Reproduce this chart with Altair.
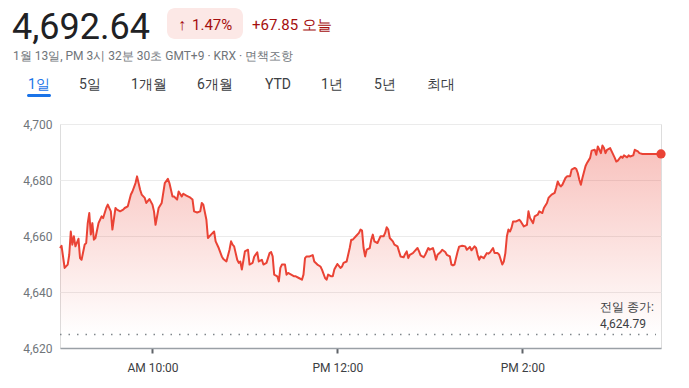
import altair as alt
import pandas as pd

# ---------------- data ----------------
times = [
    "09:00", "09:01", "09:03", "09:05", "09:06", "09:07", "09:08", "09:09", "09:10", "09:12",
    "09:13", "09:14", "09:16", "09:17", "09:18", "09:19", "09:20", "09:21", "09:22", "09:23",
    "09:25", "09:27", "09:28", "09:30", "09:31", "09:33", "09:34", "09:36", "09:37", "09:39",
    "09:41", "09:42", "09:44", "09:46", "09:47", "09:49", "09:50", "09:52", "09:53", "09:55",
    "09:56", "09:58",
    "10:00", "10:01", "10:02", "10:04", "10:06", "10:08", "10:10", "10:11", "10:13", "10:14",
    "10:16", "10:17", "10:19", "10:20", "10:22", "10:24", "10:26", "10:27", "10:29", "10:31",
    "10:32", "10:33", "10:35", "10:36", "10:38", "10:40", "10:41", "10:43", "10:45", "10:46",
    "10:48", "10:50", "10:51", "10:52", "10:53", "10:55", "10:56", "10:57", "10:58",
    "11:00", "11:02", "11:03", "11:05", "11:06", "11:08", "11:09", "11:11", "11:12", "11:14",
    "11:16", "11:17", "11:18", "11:19", "11:21", "11:22", "11:23", "11:24", "11:26", "11:27",
    "11:28", "11:30", "11:32", "11:33", "11:35", "11:37", "11:38", "11:39", "11:40", "11:42",
    "11:44", "11:45", "11:47", "11:49", "11:50", "11:52", "11:53", "11:54", "11:56", "11:57",
    "11:58",
    "12:00", "12:02", "12:03", "12:04", "12:06", "12:08", "12:09", "12:10", "12:12", "12:14",
    "12:15", "12:16", "12:17", "12:18", "12:19", "12:21", "12:22", "12:23", "12:24", "12:26",
    "12:27", "12:28", "12:30", "12:31", "12:32", "12:33", "12:34", "12:36", "12:37", "12:39",
    "12:40", "12:41", "12:43", "12:44", "12:45", "12:46", "12:47", "12:49", "12:50", "12:52",
    "12:53", "12:54", "12:56", "12:57", "12:59",
    "13:00", "13:02", "13:03", "13:04", "13:05", "13:07", "13:08", "13:10", "13:11", "13:13",
    "13:14", "13:15", "13:16", "13:18", "13:19", "13:21", "13:23", "13:24", "13:26", "13:27",
    "13:29", "13:30", "13:31", "13:32", "13:33", "13:35", "13:37", "13:38", "13:39", "13:41",
    "13:42", "13:44", "13:45", "13:47", "13:48", "13:49", "13:50", "13:51", "13:52", "13:53",
    "13:54", "13:56", "13:58", "13:59",
    "14:01", "14:03", "14:04", "14:05", "14:07", "14:08", "14:10", "14:11", "14:13", "14:14",
    "14:16", "14:17", "14:19", "14:21", "14:22", "14:23", "14:24", "14:25", "14:26", "14:28",
    "14:29", "14:31", "14:32", "14:34", "14:35", "14:36", "14:37", "14:38", "14:39", "14:41",
    "14:42", "14:44", "14:45", "14:47", "14:48", "14:49", "14:50", "14:51", "14:52", "14:53",
    "14:54", "14:55", "14:57", "14:58",
    "15:00", "15:01", "15:02", "15:04", "15:05", "15:06", "15:08", "15:09", "15:10", "15:12",
    "15:13", "15:15", "15:16", "15:18", "15:30",
]
prices = [
    4655.7, 4656.5, 4648.6, 4649.8, 4653.3, 4661.6, 4656.9, 4659.9, 4656.3, 4659.0,
    4652.1, 4651.5, 4656.9, 4657.5, 4664.6, 4668.2, 4660.5, 4664.6, 4658.7, 4659.3,
    4664.6, 4667.0, 4666.4, 4670.0, 4671.2, 4668.8, 4662.3, 4670.0, 4669.4, 4668.8,
    4669.4, 4670.0, 4670.6, 4674.8, 4675.9, 4678.9, 4681.3, 4676.5, 4674.8, 4673.6,
    4671.8, 4673.2,
    4671.2, 4668.8, 4664.0, 4670.0, 4671.8, 4678.9, 4680.4, 4678.9, 4674.1, 4674.1,
    4673.0, 4675.9, 4674.1, 4675.1, 4674.4, 4673.9, 4673.0, 4668.8, 4668.4, 4668.8,
    4671.8, 4671.2, 4665.8, 4659.3, 4660.5, 4661.6, 4658.1, 4655.7, 4652.7, 4651.8,
    4650.9, 4655.1, 4658.1, 4656.9, 4656.3, 4651.5, 4650.4, 4650.9, 4648.0,
    4654.5, 4655.1, 4649.8, 4650.4, 4652.6, 4654.2, 4650.9, 4651.5, 4649.8, 4650.4,
    4653.9, 4654.3, 4652.7, 4646.2, 4645.6, 4643.8, 4648.6, 4649.8, 4649.8, 4646.2,
    4646.8, 4646.2, 4645.6, 4645.6, 4645.0, 4644.4, 4646.2, 4652.1, 4652.7, 4652.7,
    4653.2, 4650.9, 4649.8, 4649.1, 4648.0, 4645.0, 4644.4, 4646.2, 4645.6, 4645.6,
    4648.0,
    4650.0, 4648.6, 4649.1, 4650.4, 4650.9, 4655.7, 4658.7, 4658.7, 4659.9, 4661.1,
    4662.3, 4661.9, 4655.7, 4652.7, 4655.1, 4655.7, 4658.7, 4660.5, 4658.1, 4657.5,
    4658.7, 4659.9, 4659.9, 4661.1, 4663.1, 4662.3, 4659.3, 4658.1, 4656.9, 4656.3,
    4654.5, 4652.7, 4652.4, 4653.6, 4654.5, 4652.1, 4653.3, 4653.9, 4654.5, 4655.7,
    4654.5, 4653.1, 4652.4, 4653.3, 4655.7,
    4655.1, 4655.7, 4653.9, 4651.5, 4653.3, 4654.3, 4655.1, 4654.3, 4653.3, 4652.7,
    4649.8, 4649.5, 4649.8, 4654.4, 4656.2, 4656.5, 4656.3, 4655.1, 4656.1, 4654.9,
    4656.3, 4655.7, 4653.3, 4651.5, 4652.7, 4652.1, 4653.9, 4653.7, 4654.1, 4655.7,
    4653.9, 4653.9, 4653.3, 4649.8, 4650.9, 4653.9, 4659.9, 4662.3, 4661.6, 4662.9,
    4665.2, 4665.2, 4665.8, 4665.2,
    4663.4, 4664.0, 4668.8, 4666.4, 4664.6, 4667.0, 4667.6, 4668.8, 4668.2, 4670.0,
    4671.8, 4673.6, 4674.8, 4675.4, 4677.3, 4679.5, 4678.3, 4677.7, 4678.3, 4680.7,
    4681.3, 4681.3, 4683.7, 4684.3, 4684.0, 4682.5, 4680.1, 4678.3, 4680.7, 4684.9,
    4686.1, 4687.9, 4690.5, 4690.8, 4689.0, 4692.0, 4690.8, 4689.6, 4692.3, 4691.4,
    4689.6, 4690.8, 4691.4, 4690.2,
    4687.9, 4686.6, 4686.9, 4688.4, 4687.9, 4688.8, 4688.1, 4688.8, 4688.4, 4688.8,
    4690.8, 4690.2, 4689.6, 4689.3, 4689.3,
]
assert len(times) == len(prices)

prev_close = 4624.79
y_ticks = [4620, 4640, 4660, 4680, 4700]
x_tick_times = ["10:00", "12:00", "14:00"]
x_tick_labels = ["AM 10:00", "PM 12:00", "PM 2:00"]
tabs = ["1일", "5일", "1개월", "6개월", "YTD", "1년", "5년", "최대"]
tab_centers = [39, 90, 149, 215, 278, 332, 385, 441]  # page x of each tab label

headline_price = "4,692.64"
change_arrow = "↑"
change_pct = "1.47%"
change_abs = "+67.85 오늘"
subtitle = "1월 13일, PM 3시 32분 30초 GMT+9 · KRX · 면책조항"
prev_label_1 = "전일 종가:"
prev_label_2 = "4,624.79"


def to_min(s):
    h, m = s.split(":")
    return (int(h) - 9) * 60 + int(m)


df = pd.DataFrame({"t": [to_min(s) for s in times], "price": prices})
tick_vals = [to_min(s) for s in x_tick_times]
label_expr = " : ".join(
    f"datum.value == {v} ? '{lab}'" for v, lab in zip(tick_vals, x_tick_labels)
) + " : ''"

# ---------------- layout ----------------
W, H = 601, 224
X0, Y0 = 60, 124  # page position of the plot origin
RED = "#ea4335"
DARK_RED = "#a50e0e"
FONT = "Roboto"

x_enc = alt.X(
    "t:Q",
    scale=alt.Scale(domain=[0, 390], nice=False, zero=False),
    axis=alt.Axis(
        values=tick_vals, labelExpr=label_expr, title=None, grid=False,
        domainColor="#9aa0a6", domainWidth=1.5,
        tickColor="#5f6368", tickSize=5, tickWidth=2,
        labelColor="#3c4043", labelFontSize=12, labelPadding=9, labelFont=FONT,
    ),
)
y_enc = alt.Y(
    "price:Q",
    scale=alt.Scale(domain=[4620, 4700], nice=False, zero=False),
    axis=alt.Axis(
        values=y_ticks, format=",.0f", title=None, grid=True, gridColor="#ebebeb",
        gridWidth=1, domain=False, ticks=False, labelPadding=8,
        labelColor="#70757a", labelFontSize=12, labelFont=FONT,
    ),
)

gradient = alt.Gradient(
    gradient="linear",
    stops=[
        alt.GradientStop(color="rgba(234,67,53,0.33)", offset=0),
        alt.GradientStop(color="rgba(234,67,53,0.0)", offset=1),
    ],
    x1=1, x2=1, y1=0, y2=1,
)

area = alt.Chart(df).mark_area(color=gradient).encode(
    x=x_enc, y=y_enc, y2=alt.datum(prev_close)
)
line = alt.Chart(df).mark_line(color=RED, strokeWidth=2, strokeJoin="round").encode(
    x=x_enc, y=y_enc
)
dot = alt.Chart(df.tail(1)).mark_circle(color=RED, size=85, opacity=1).encode(
    x=x_enc, y=y_enc
)
prev_rule = alt.Chart(pd.DataFrame({"price": [prev_close]})).mark_rule(
    color="#80868b", strokeDash=[1.5, 7], strokeWidth=1.5
).encode(y=y_enc, x=alt.value(0), x2=alt.value(W - 5))


def one():
    return alt.InlineData(values=[{"k": 1}])


def text_at(txt, px, py, size=12, color="#3c4043", align="left",
            baseline="middle", weight="normal"):
    return alt.Chart(one()).mark_text(
        text=txt, font=FONT, fontSize=size, color=color, align=align,
        baseline=baseline, fontWeight=weight,
    ).encode(x=alt.value(px - X0), y=alt.value(py - Y0))


def rect_at(px1, py1, px2, py2, color, radius=0):
    return alt.Chart(one()).mark_rect(color=color, cornerRadius=radius).encode(
        x=alt.value(px1 - X0), x2=alt.value(px2 - X0),
        y=alt.value(py1 - Y0), y2=alt.value(py2 - Y0),
    )


layers = [area, prev_rule, line, dot]

# header
layers.append(text_at(headline_price, 12, 39, size=36, color="#202124",
                      baseline="alphabetic"))
layers.append(rect_at(167, 8, 243, 39, "#fce8e6", radius=8))
layers.append(text_at(change_arrow, 182, 29.5, size=16, color=DARK_RED,
                      align="center", baseline="alphabetic", weight="bold"))
layers.append(text_at(change_pct, 192, 29.5, size=15, color=DARK_RED,
                      baseline="alphabetic"))
layers.append(text_at(change_abs, 252, 29.5, size=15, color=DARK_RED,
                      baseline="alphabetic"))
layers.append(text_at(subtitle, 13, 55.5, size=12, color="#70757a"))

# tabs
for i, (tab, cx) in enumerate(zip(tabs, tab_centers)):
    layers.append(text_at(tab, cx, 84.5, size=14,
                          color="#1a73e8" if i == 0 else "#3c4043",
                          align="center"))
layers.append(rect_at(27, 94, 51, 97, "#1a73e8", radius=2))

# previous close label
layers.append(text_at(prev_label_1, 600, 306.5, size=12, color="#3c4043"))
layers.append(text_at(prev_label_2, 600, 323.5, size=12, color="#3c4043"))

chart = alt.layer(*layers).properties(
    width=W, height=H,
    padding={"left": 52, "top": 116, "right": 20, "bottom": 26},
    autosize=alt.AutoSizeParams(type="none"),
).configure_view(stroke=None).configure(font=FONT)

chart.save("out.html", embed_options={"renderer": "svg", "actions": False})
